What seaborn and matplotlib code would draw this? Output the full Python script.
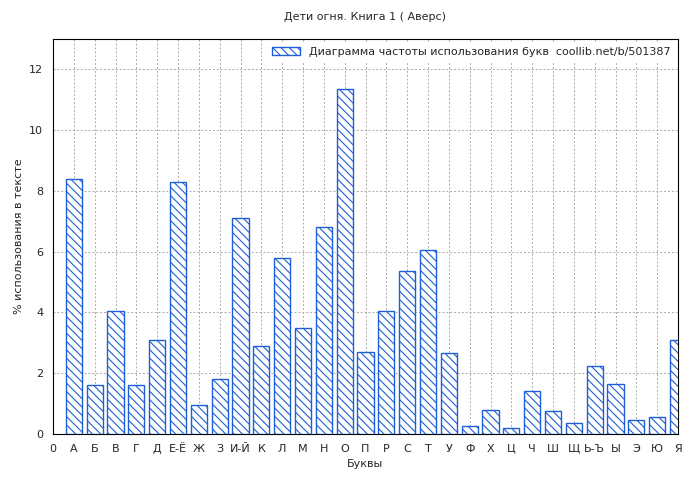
import matplotlib
matplotlib.use("Agg")
import matplotlib.pyplot as plt
import seaborn as sns
import pandas as pd

letters = ["А","Б","В","Г","Д","Е-Ё","Ж","З","И-Й","К","Л","М","Н","О","П","Р","С","Т","У","Ф","Х","Ц","Ч","Ш","Щ","Ь-Ъ","Ы","Э","Ю","Я"]
values = [8.4,1.6,4.05,1.6,3.1,8.3,0.95,1.8,7.1,2.9,5.8,3.5,6.8,11.35,2.7,4.05,5.35,6.05,2.65,0.25,0.8,0.2,1.4,0.75,0.35,2.25,1.65,0.45,0.55,3.1]
tick_labels = ["0"] + letters

sns.set_style("white")
plt.rcParams["font.family"] = ["DejaVu Sans"]
plt.rcParams["hatch.color"] = "#1f5fd6"
plt.rcParams["hatch.linewidth"] = 0.8

fig = plt.figure(figsize=(7, 4.8), dpi=100)
ax = fig.add_axes([53/700, 1-434/480, 625/700, 395/480])
df = pd.DataFrame({"l": letters, "v": values})
sns.barplot(data=df, x="l", y="v", ax=ax, color="white", edgecolor="#1f5fd6",
            linewidth=1, width=0.78, hatch="\\\\\\\\", saturation=1, zorder=3,
            label="Диаграмма частоты использования букв  coollib.net/b/501387")
ax.set_xlim(-1, 29)
ax.set_ylim(0, 13)
ax.set_xticks(range(-1, 30))
ax.set_xticklabels(tick_labels, fontsize=8)
ax.set_yticks(range(0, 13, 2))
ax.tick_params(axis="y", labelsize=8)
ax.grid(True, color="#aaaaaa", linestyle=(0, (2, 2)), linewidth=0.7, zorder=0)
for s in ax.spines.values():
    s.set_color("black"); s.set_linewidth(0.8)
ax.set_xlabel("Буквы", fontsize=8)
ax.set_ylabel("% использования в тексте", fontsize=8)
ax.set_title("Дети огня. Книга 1 ( Аверс)", fontsize=8, pad=14)
leg = ax.legend(loc="upper right", fontsize=8, frameon=True, handlelength=2.5, borderaxespad=0.3)
leg.get_frame().set_edgecolor("white"); leg.get_frame().set_alpha(1)
fig.savefig("out.png", dpi=100)
